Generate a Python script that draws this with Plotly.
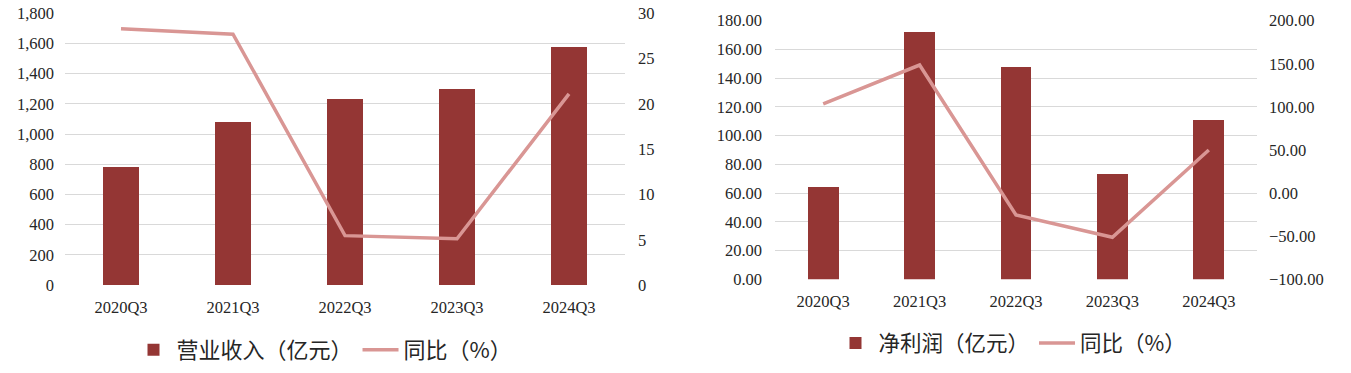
import plotly.graph_objects as go

# ---- data ----
categories = ["2020Q3", "2021Q3", "2022Q3", "2023Q3", "2024Q3"]
revenue = [777, 1078, 1233, 1297, 1572]          # 营业收入（亿元）
revenue_yoy = [28.3, 27.7, 5.45, 5.1, 21.1]       # 同比（%）
net_profit = [64.7, 172.6, 147.8, 73.8, 111.3]    # 净利润（亿元）
profit_yoy = [103.4, 148.6, -25.4, -51.3, 50.0]   # 同比（%）

BAR = "#943634"
LINE = "#D99694"
GRID = "#D9D9D9"
TXT = "#262626"
NUM_FONT = "Liberation Serif, Noto Sans CJK SC"
CJK_FONT = "Noto Sans CJK SC, Noto Sans, sans-serif"

W, H = 1351, 373

def px_x(a, b):
    return [a / W, b / W]

def px_y(top, bottom):
    return [1 - bottom / H, 1 - top / H]

fig = go.Figure()

# left chart
fig.add_trace(go.Bar(x=categories, y=revenue, name="营业收入（亿元）", marker_color=BAR,
                     marker_line_width=0, width=0.32, xaxis="x", yaxis="y", legend="legend"))
fig.add_trace(go.Scatter(x=categories, y=revenue_yoy, name="同比（%）", mode="lines",
                         line=dict(color=LINE, width=3.5), xaxis="x", yaxis="y2", legend="legend"))
# right chart
fig.add_trace(go.Bar(x=categories, y=net_profit, name="净利润（亿元）", marker_color=BAR,
                     marker_line_width=0, width=0.32, xaxis="x2", yaxis="y3", legend="legend2"))
fig.add_trace(go.Scatter(x=categories, y=profit_yoy, name="同比（%）", mode="lines",
                         line=dict(color=LINE, width=3.5), xaxis="x2", yaxis="y4", legend="legend2"))

tickfont = dict(family=NUM_FONT, size=16.5, color=TXT)

common_x = dict(type="category", showgrid=False, zeroline=False, showline=False,
                ticks="", tickfont=tickfont, ticklabelstandoff=10, fixedrange=True)
fig.update_layout(
    width=W, height=H,
    margin=dict(l=0, r=0, t=0, b=0, autoexpand=False),
    paper_bgcolor="white", plot_bgcolor="white",
    bargap=0,
    xaxis=dict(domain=px_x(65, 625), anchor="y", **common_x),
    yaxis=dict(domain=px_y(13.3, 285), range=[0, 1800], dtick=200, tickformat=",",
               showgrid=True, gridcolor=GRID, gridwidth=1.3, zeroline=False, showline=False,
               ticks="", tickfont=tickfont, ticklabelstandoff=10),
    yaxis2=dict(overlaying="y", side="right", anchor="x", range=[0, 30], dtick=5,
                showgrid=False, zeroline=False, showline=False, ticks="", tickfont=tickfont,
                ticklabelstandoff=12),
    xaxis2=dict(domain=px_x(775, 1257), anchor="y3", **common_x),
    yaxis3=dict(domain=px_y(20.7, 279.3), anchor="x2", range=[0, 180], dtick=20, tickformat=".2f",
                showgrid=True, gridcolor=GRID, gridwidth=1.3, zeroline=False, showline=False,
                ticks="", tickfont=tickfont, ticklabelstandoff=12),
    yaxis4=dict(overlaying="y3", side="right", anchor="x2", range=[-100, 200], dtick=50,
                tickformat=".2f", showgrid=False, zeroline=False, showline=False, ticks="",
                tickfont=tickfont, ticklabelstandoff=11),
    legend=dict(orientation="h", x=324 / W, xanchor="center", y=1 - 350 / H, yanchor="middle",
                font=dict(family=CJK_FONT, size=22, color=TXT), bgcolor="rgba(0,0,0,0)",
                traceorder="normal", itemwidth=36),
    legend2=dict(orientation="h", x=1012 / W, xanchor="center", y=1 - 343 / H, yanchor="middle",
                 font=dict(family=CJK_FONT, size=21.5, color=TXT), bgcolor="rgba(0,0,0,0)",
                 traceorder="normal", itemwidth=36),
    showlegend=True,
)

fig.write_html("out.html", config={"displayModeBar": False},
               post_script="document.body.style.margin='0';")
